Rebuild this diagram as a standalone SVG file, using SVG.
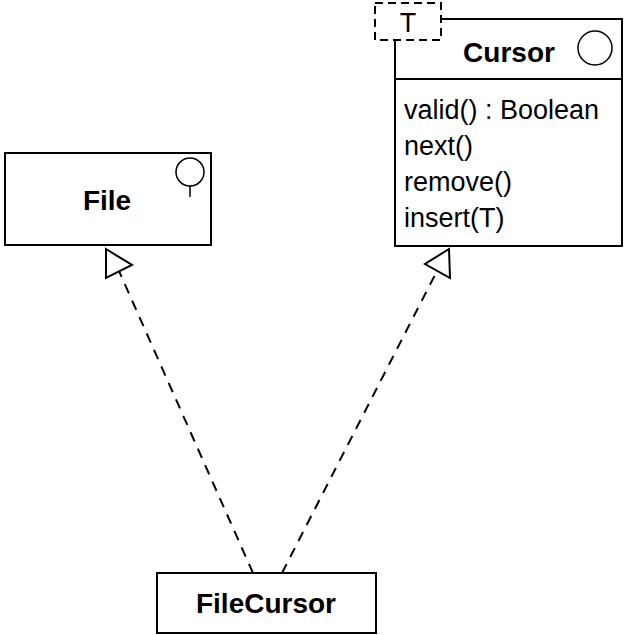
<svg xmlns="http://www.w3.org/2000/svg" width="629" height="635" viewBox="0 0 629 635">
<style>
.box{fill:#fff;stroke:#000;stroke-width:2}
.b{font-family:"Liberation Sans",Arial,sans-serif;font-weight:bold;font-size:28px;text-anchor:middle}
.r{font-family:"Liberation Sans",Arial,sans-serif;font-size:27px}
.dash{fill:none;stroke:#000;stroke-width:2;stroke-dasharray:10,8}
.tri{fill:#fff;stroke:#000;stroke-width:2}
</style>
<rect width="629" height="635" fill="#fff"/>
<g id="File">
<rect class="box" x="5" y="153" width="206" height="92"/>
<circle cx="190" cy="172" r="14" fill="none" stroke="#000" stroke-width="1.5"/>
<line x1="190" y1="186" x2="190" y2="197" stroke="#000" stroke-width="1.5"/>
<text class="b" x="107" y="210">File</text>
</g>
<g id="Cursor">
<rect class="box" x="395" y="19" width="227" height="227"/>
<line x1="395" y1="79" x2="622" y2="79" stroke="#000" stroke-width="2"/>
<rect x="375" y="3" width="66" height="37" fill="#fff" stroke="#000" stroke-width="2" stroke-dasharray="8,5"/>
<text class="r" x="408" y="32" text-anchor="middle">T</text>
<circle cx="595" cy="48" r="17" fill="none" stroke="#000" stroke-width="1.5"/>
<text class="b" x="509" y="62">Cursor</text>
<text class="r" x="404" y="119">valid() : Boolean</text>
<text class="r" x="404" y="155">next()</text>
<text class="r" x="404" y="191">remove()</text>
<text class="r" x="404" y="227">insert(T)</text>
</g>
<g id="FileCursor">
<rect class="box" x="157" y="573" width="219" height="60"/>
<text class="b" x="266" y="613">FileCursor</text>
</g>
<g id="connectors">
<line class="dash" x1="253" y1="573" x2="119" y2="271"/>
<polygon class="tri" points="106,249 132,265 106,278"/>
<line class="dash" x1="282" y1="573" x2="437" y2="271"/>
<polygon class="tri" points="449,249 425,264 450,278"/>
</g>
</svg>
